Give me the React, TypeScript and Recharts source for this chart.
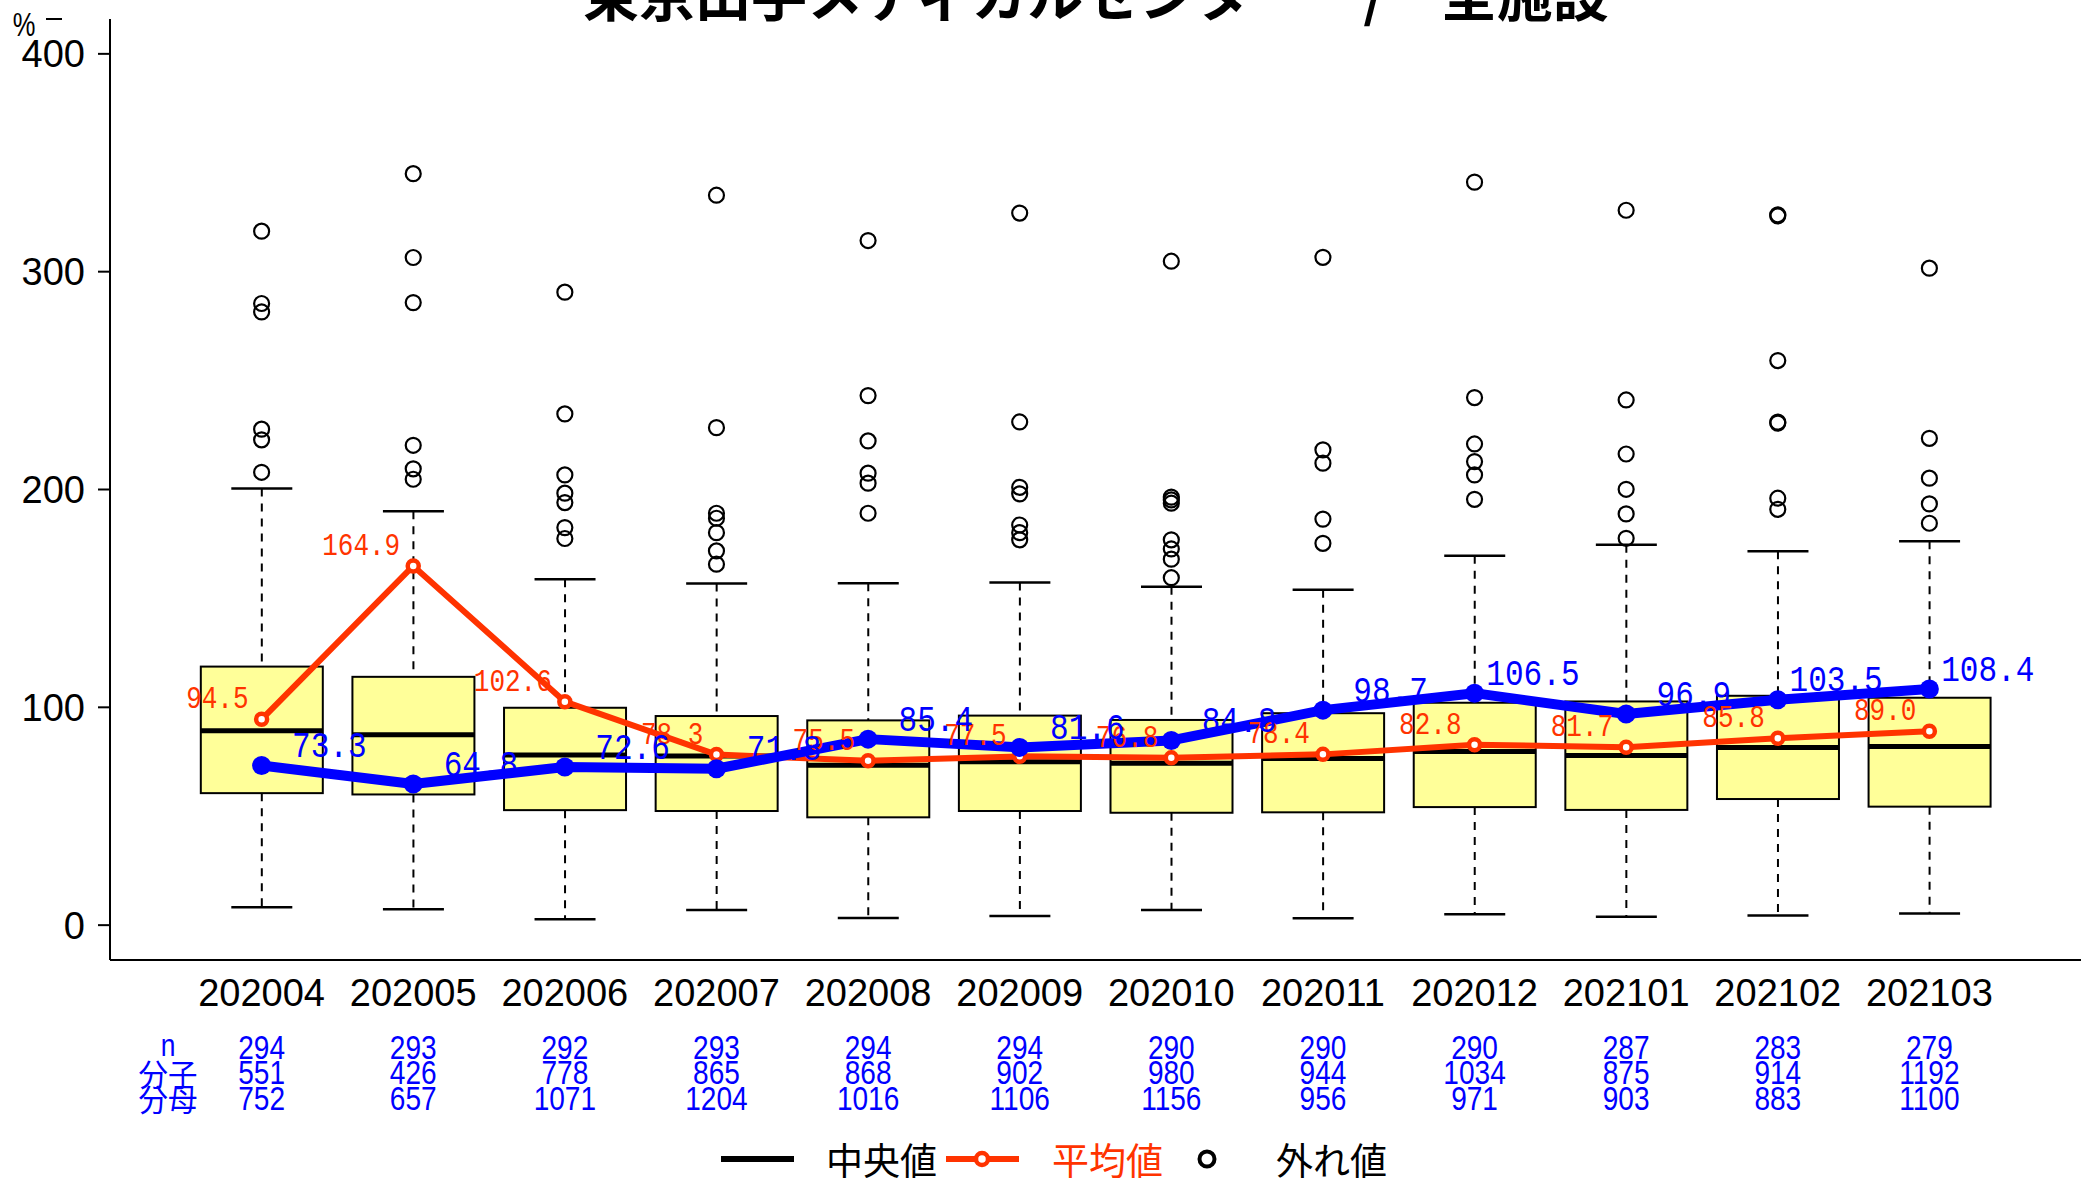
import React from "react";
import { ComposedChart, Bar, Line, Scatter, XAxis, YAxis } from "recharts";

const months = ["202004", "202005", "202006", "202007", "202008", "202009", "202010", "202011", "202012", "202101", "202102", "202103"];
const lowerWhisker = [8.2, 7.3, 2.7, 7.0, 3.3, 4.2, 7.0, 3.2, 5.0, 3.9, 4.4, 5.3];
const q1 = [60.6, 60.0, 52.8, 52.4, 49.5, 52.4, 51.6, 51.8, 54.2, 52.9, 57.9, 54.4];
const median = [89.2, 87.4, 78.1, 77.6, 73.4, 75.0, 74.3, 76.5, 79.7, 77.9, 81.5, 82.0];
const q3 = [118.7, 114.0, 99.8, 96.0, 94.0, 96.2, 94.2, 97.3, 102.1, 102.7, 105.3, 104.4];
const upperWhisker = [200.5, 190.0, 158.8, 156.8, 157.0, 157.3, 155.3, 154.0, 169.6, 174.6, 171.6, 176.2];
const meanValues = [94.5, 164.9, 102.6, 78.3, 75.5, 77.5, 76.8, 78.4, 82.8, 81.7, 85.8, 89.0];
const rateValues = [73.3, 64.8, 72.6, 71.8, 85.4, 81.6, 84.8, 98.7, 106.5, 96.9, 103.5, 108.4];
const outliers = [
  [318.6, 285.4, 281.5, 227.7, 222.8, 207.9],
  [345.0, 306.5, 285.8, 220.3, 209.5, 204.7],
  [290.6, 234.7, 206.7, 198.3, 194.0, 182.5, 177.5],
  [335.1, 228.4, 189.1, 186.8, 180.2, 171.8, 165.7],
  [314.3, 243.1, 222.3, 207.5, 202.9, 189.1],
  [326.9, 231.0, 201.0, 198.0, 183.7, 180.2, 176.9],
  [304.8, 196.5, 195.2, 193.7, 176.9, 172.7, 168.0, 159.5],
  [306.6, 218.2, 212.1, 186.4, 175.3],
  [341.1, 242.2, 220.9, 212.8, 206.7, 195.5],
  [328.2, 241.1, 216.3, 200.1, 188.8, 177.6],
  [326.1, 325.6, 259.2, 230.9, 230.5, 196.0, 190.9],
  [301.6, 223.5, 205.2, 193.4, 184.5],
];
const nCounts = [294, 293, 292, 293, 294, 294, 290, 290, 290, 287, 283, 279];
const numerators = [551, 426, 778, 865, 868, 902, 980, 944, 1034, 875, 914, 1192];
const denominators = [752, 657, 1071, 1204, 1016, 1106, 1156, 956, 971, 903, 883, 1100];
const yTicks = [0, 100, 200, 300, 400];

const RED = "#ff3300";
const BLUE = "#0000ff";
const SANS = "'Liberation Sans', Arial, sans-serif";
const MONO = "'Liberation Mono', 'DejaVu Sans Mono', monospace";
const CJK = "'Noto Sans CJK JP', sans-serif";

const rows = months.map((m, i) => ({
  x: i + 1,
  month: m,
  lo: lowerWhisker[i],
  q1: q1[i],
  med: median[i],
  q3: q3[i],
  hi: upperWhisker[i],
  mean: meanValues[i],
  rate: rateValues[i],
}));

const outlierRows = outliers.flatMap((vals, i) => vals.map((v) => ({ x: i + 1, y: v })));

// box + whiskers drawn from the whisker range bar
function BoxShape(props: any) {
  const { x, y, width, height, payload } = props;
  if (!payload) return null;
  const top = Math.min(y, y + height);
  const bottom = Math.max(y, y + height);
  const py = (v: number) => top + ((payload.hi - v) / (payload.hi - payload.lo)) * (bottom - top);
  const cx = x + width / 2;
  const cap = width / 4;
  return (
    <g>
      <line x1={cx} x2={cx} y1={py(payload.hi)} y2={py(payload.q3)} stroke="#000" strokeWidth={2} strokeDasharray="8 7" />
      <line x1={cx} x2={cx} y1={py(payload.q1)} y2={py(payload.lo)} stroke="#000" strokeWidth={2} strokeDasharray="8 7" />
      <line x1={cx - cap} x2={cx + cap} y1={py(payload.hi)} y2={py(payload.hi)} stroke="#000" strokeWidth={2.5} />
      <line x1={cx - cap} x2={cx + cap} y1={py(payload.lo)} y2={py(payload.lo)} stroke="#000" strokeWidth={2.5} />
      <rect x={x} y={py(payload.q3)} width={width} height={py(payload.q1) - py(payload.q3)} fill="#ffff99" stroke="#000" strokeWidth={2} />
      <line x1={x} x2={x + width} y1={py(payload.med)} y2={py(payload.med)} stroke="#000" strokeWidth={5} />
    </g>
  );
}

// narrow text: regular font squeezed horizontally
function Squeezed({ x, y, sx, anchor, children, ...rest }: any) {
  return (
    <text transform={`translate(${x},${y}) scale(${sx},1)`} textAnchor={anchor} dominantBaseline="central" {...rest}>
      {children}
    </text>
  );
}

function MonthTick(props: any) {
  const { x, y, payload } = props;
  const i = payload.value - 1;
  if (i < 0 || i >= months.length) return null;
  return (
    <g>
      <text x={x} y={y + 33} textAnchor="middle" dominantBaseline="central" fontSize={38} fontFamily={SANS} fill="#000">
        {months[i]}
      </text>
      <g fontFamily={SANS} fontSize={33} fill={BLUE}>
        <Squeezed x={x} y={y + 87} sx={0.85} anchor="middle">{nCounts[i]}</Squeezed>
        <Squeezed x={x} y={y + 112.5} sx={0.85} anchor="middle">{numerators[i]}</Squeezed>
        <Squeezed x={x} y={y + 138} sx={0.85} anchor="middle">{denominators[i]}</Squeezed>
      </g>
    </g>
  );
}

export default function App() {
  return (
    <div style={{ position: "absolute", left: 0, top: 0, width: 2089, height: 1180, background: "#fff" }}>
      <ComposedChart width={2089} height={1180} data={rows} margin={{ top: 19, right: 8, bottom: 0, left: 10 }}>
        <XAxis
          dataKey="x"
          type="number"
          domain={[0, 13]}
          ticks={[1, 2, 3, 4, 5, 6, 7, 8, 9, 10, 11, 12]}
          interval={0}
          height={220}
          tickLine={false}
          tickSize={0}
          tickMargin={0}
          axisLine={{ stroke: "#000", strokeWidth: 2 }}
          tick={<MonthTick />}
        />
        <YAxis
          type="number"
          domain={[-16, 416]}
          allowDataOverflow
          ticks={yTicks}
          width={100}
          tickSize={12}
          tickMargin={13}
          axisLine={{ stroke: "#000", strokeWidth: 2 }}
          tickLine={{ stroke: "#000", strokeWidth: 2 }}
          tick={{ fontSize: 38, fill: "#000", fontFamily: SANS }}
        />
        <Bar dataKey={(d: any) => [d.lo, d.hi]} barSize={122} shape={<BoxShape />} isAnimationActive={false} />
        <Scatter
          data={outlierRows}
          dataKey="y"
          isAnimationActive={false}
          shape={(p: any) => <circle cx={p.cx} cy={p.cy} r={7.5} fill="none" stroke="#000" strokeWidth={2.2} />}
        />
        <Line
          dataKey="mean"
          stroke={RED}
          strokeWidth={6}
          strokeLinejoin="round"
          isAnimationActive={false}
          dot={(p: any) => <circle key={`m${p.index}`} cx={p.cx} cy={p.cy} r={5.5} fill="#fff" stroke={RED} strokeWidth={4.5} />}
          label={(p: any) => (
            <Squeezed key={`ml${p.index}`} x={p.x - 13} y={p.y - 19} sx={0.84} anchor="end" fontSize={31} fontFamily={MONO} fill={RED}>
              {Number(p.value).toFixed(1)}
            </Squeezed>
          )}
        />
        <Line
          dataKey="rate"
          stroke={BLUE}
          strokeWidth={10}
          strokeLinejoin="round"
          strokeLinecap="round"
          isAnimationActive={false}
          dot={(p: any) => <circle key={`r${p.index}`} cx={p.cx} cy={p.cy} r={9.5} fill={BLUE} stroke="none" />}
          label={(p: any) => (
            <Squeezed key={`rl${p.index}`} x={p.x + 105} y={p.y - 18} sx={0.84} anchor="end" fontSize={37} fontFamily={MONO} fill={BLUE}>
              {Number(p.value).toFixed(1)}
            </Squeezed>
          )}
        />
      </ComposedChart>
      <svg width={2089} height={1180} style={{ position: "absolute", left: 0, top: 0, pointerEvents: "none" }}>
        <text x={1096} y={16} textAnchor="middle" fontSize={56} fontWeight="bold" fontFamily={CJK} fill="#000">
          東京山手メディカルセンター　/　全施設
        </text>
        <Squeezed x={24} y={24} sx={0.75} anchor="middle" fontSize={34} fontFamily={SANS} fill="#000">%</Squeezed>
        <line x1={46} x2={62} y1={19} y2={19} stroke="#000" strokeWidth={2} />
        <g fontFamily={CJK} fontSize={31} fill={BLUE}>
          <Squeezed x={168} y={1045} sx={0.85} anchor="middle" fontFamily={SANS}>n</Squeezed>
          <Squeezed x={168} y={1072.5} sx={0.95} anchor="middle">分子</Squeezed>
          <Squeezed x={168} y={1098} sx={0.95} anchor="middle">分母</Squeezed>
        </g>
        <g fontFamily={CJK} fontSize={37}>
          <line x1={721} x2={794} y1={1159} y2={1159} stroke="#000" strokeWidth={6} />
          <text x={826} y={1159} dominantBaseline="central" fill="#000">中央値</text>
          <line x1={946} x2={1019} y1={1159} y2={1159} stroke={RED} strokeWidth={6} />
          <circle cx={982} cy={1159} r={6} fill="#fff" stroke={RED} strokeWidth={4.5} />
          <text x={1052} y={1159} dominantBaseline="central" fill={RED}>平均値</text>
          <circle cx={1207} cy={1159} r={7.5} fill="none" stroke="#000" strokeWidth={4} />
          <text x={1276} y={1159} dominantBaseline="central" fill="#000">外れ値</text>
        </g>
      </svg>
    </div>
  );
}
